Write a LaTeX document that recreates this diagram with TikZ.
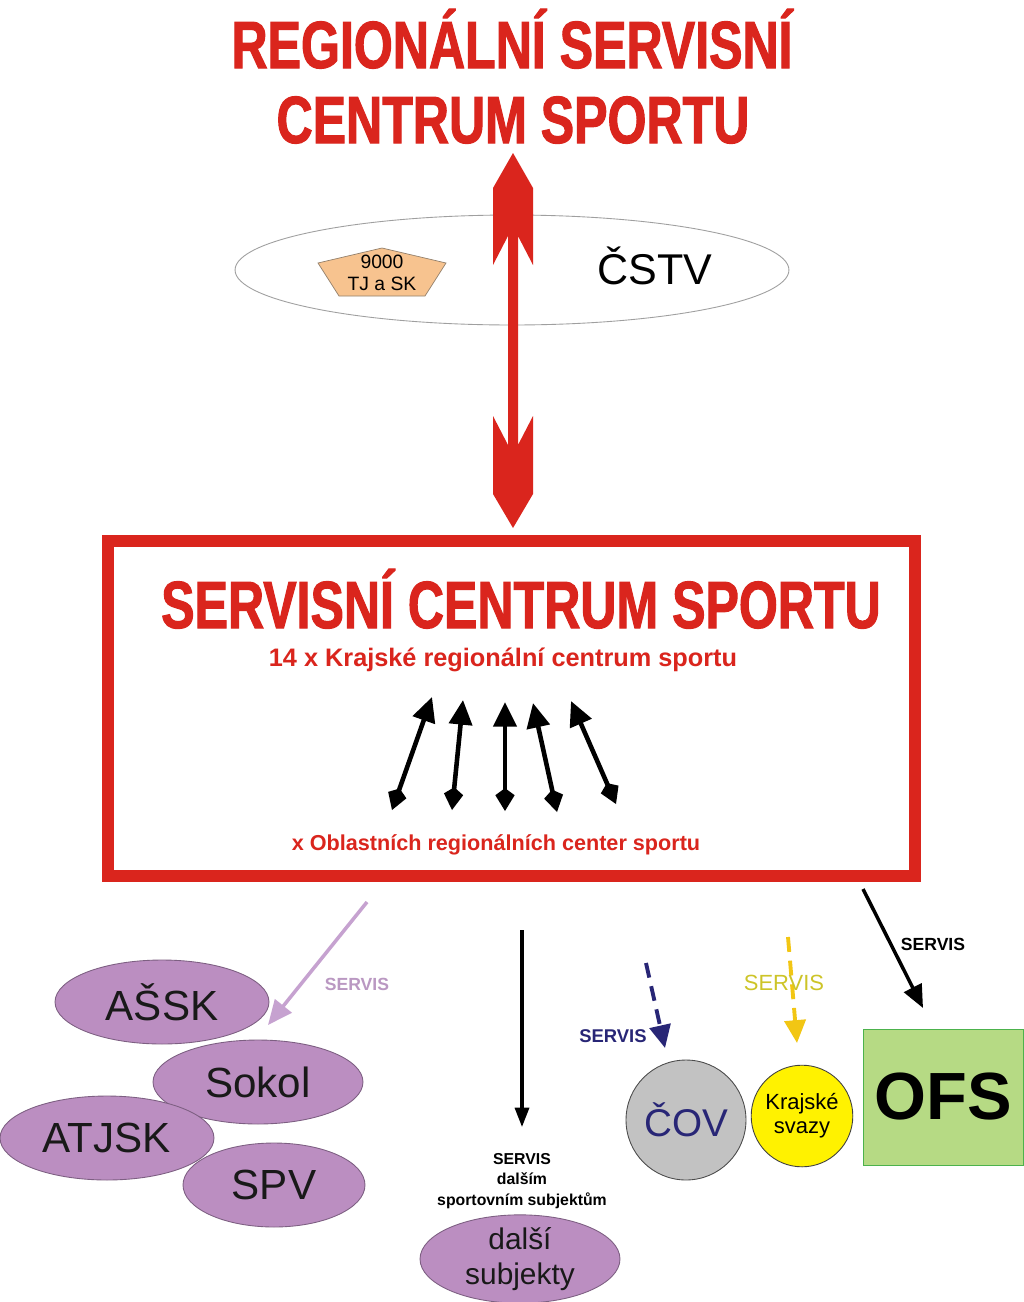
\documentclass[tikz,border=0pt]{standalone}
\usepackage{fontspec}
\setmainfont{Liberation Sans}
\newfontfamily\narrowfont[FakeStretch=0.75,FakeBold=1.5]{Liberation Sans}
\usepackage{xcolor}
\usetikzlibrary{arrows.meta, positioning, shapes.geometric}
\definecolor{rscred}{RGB}{218,37,29}
\definecolor{lilac}{RGB}{198,162,208}
\definecolor{lilactext}{RGB}{186,152,194}
\definecolor{orgfill}{RGB}{187,142,193}
\definecolor{orgline}{RGB}{125,95,130}
\definecolor{navy}{RGB}{40,38,118}
\definecolor{gold}{RGB}{242,198,20}
\definecolor{goldtext}{RGB}{205,196,40}
\definecolor{peach}{RGB}{247,195,143}
\definecolor{ofsgreen}{RGB}{182,218,132}
\definecolor{covgray}{RGB}{194,194,194}

\begin{document}
\begin{tikzpicture}[x=0.02cm, y=-0.02cm,
    bigtitle/.style={anchor=base, text=rscred, font=\narrowfont\bfseries\fontsize{38}{43}\selectfont},
    org/.style={ellipse, draw=orgline, fill=orgfill, line width=0.5pt, minimum height=1.68cm, inner sep=0pt, text=black!90, font=\fontsize{24}{28}\selectfont},
    servis/.style={anchor=base, font=\bfseries\fontsize{10}{12}\selectfont},
    pairarrow/.style={line width=2.6pt, {Kite[width=11pt,length=13pt,inset=4pt]}-{Triangle[width=13pt,length=14pt]}}]
    \useasboundingbox (0,0) rectangle (1024,1302);
    \fill[white] (0,0) rectangle (1024,1302);

    % Title
    \node[bigtitle] (title1) at (512,68) {REGIONÁLNÍ SERVISNÍ};
    \node[bigtitle] (title2) at (513,143) {CENTRUM SPORTU};

    % CSTV ring with clubs
    \node[ellipse, draw=gray!75, line width=0.5pt, minimum width=11.08cm, minimum height=2.2cm] (ring) at (512,270) {};
    \filldraw[fill=peach, draw=gray!70!brown, line width=0.4pt]
        (382,248) -- (446,263) -- (425,296) -- (339,296) -- (318,263) -- cycle;
    \node[align=center, font=\fontsize{11}{12.5}\selectfont] (tjsk) at (382,273) {9000\\TJ a SK};
    \node[anchor=base, font=\fontsize{24.5}{28}\selectfont] (cstv) at (655,284) {ČSTV};

    % Red double arrow
    \fill[rscred] (513,153) -- (533,188) -- (533,265) -- (518,236) -- (518,445) -- (533,416)
        -- (533,494) -- (513,528) -- (493,494) -- (493,416) -- (508,445) -- (508,236)
        -- (493,265) -- (493,188) -- cycle;

    % Service centre box
    \node[draw=rscred, line width=6.8pt, minimum width=16.14cm, minimum height=6.7cm] (rsc) at (511.5,708.5) {};
    \node[bigtitle] (sc) at (521,628) {SERVISNÍ CENTRUM SPORTU};
    \node[anchor=base, text=rscred, font=\bfseries\fontsize{14.4}{17}\selectfont] (krc) at (503,666) {14 x Krajské regionální centrum sportu};
    \node[anchor=base, text=rscred, font=\bfseries\fontsize{12.3}{15}\selectfont] (orc) at (496,850) {x Oblastních regionálních center sportu};

    % Arrows between regional centres
    \foreach \i/\bx/\by/\tx/\ty in {1/392/810/432/697, 2/452/810/463/700, 3/505/811/505/702, 4/557/812/533/703, 5/616/804/571/701} {
        \coordinate (lo\i) at (\bx,\by);
        \coordinate (hi\i) at (\tx,\ty);
        \draw[pairarrow] (lo\i) -- (hi\i);
    }

    % Subjects on the left
    \node[org, minimum width=4.28cm] (assk) at (162,1002) {AŠSK};
    \node[org, minimum width=4.2cm] (sokol) at (258,1082) {Sokol};
    \node[org, minimum width=4.28cm] (atjsk) at (107,1138) {ATJSK};
    \node[org, minimum width=3.64cm] (spv) at (274,1185) {SPV};
    \coordinate (lilfrom) at (367,902);
    \coordinate (lilto) at (268,1025);
    \draw[lilac, line width=2pt, -{Triangle[width=12pt,length=14pt]}] (lilfrom) -- (lilto);
    \node[servis, text=lilactext] (s1) at (357,990) {SERVIS};

    % Other subjects
    \coordinate (midfrom) at (522,930);
    \coordinate (midto) at (522,1127);
    \draw[line width=1.8pt, -{Triangle[width=8pt,length=11pt]}] (midfrom) -- (midto);
    \node[align=center, font=\bfseries\fontsize{9}{11.7}\selectfont] (s2) at (522,1181) {SERVIS\\dalším\\sportovním subjektům};
    \node[org, minimum width=4cm, minimum height=1.64cm, font=\fontsize{17}{19.5}\selectfont, align=center] (dalsi) at (520,1259) {další\\subjekty};

    % COV
    \node[circle, draw=gray!60!black, line width=0.5pt, fill=covgray, minimum size=2.4cm, text=navy, font=\fontsize{22}{26}\selectfont] (cov) at (686,1120) {ČOV};
    \coordinate (navfrom) at (646,963);
    \coordinate (navto) at (665,1048);
    \draw[navy, line width=2.2pt, dash pattern=on 8.5pt off 5pt, -{Triangle[width=12pt,length=13pt]}] (navfrom) -- (navto);
    \node[servis, text=navy, font=\bfseries\fontsize{10.5}{12}\selectfont] (s3) at (613,1042) {SERVIS};

    % Krajske svazy
    \node[circle, draw=gray!50!black, line width=0.5pt, fill=yellow, minimum size=1.92cm, align=center, font=\fontsize{12.5}{13.5}\selectfont] (ks) at (802,1116) {Krajské\\svazy};
    \coordinate (goldfrom) at (788,937);
    \coordinate (goldto) at (797,1043);
    \draw[gold, line width=2.2pt, dash pattern=on 8.5pt off 5pt, -{Triangle[width=12pt,length=13pt]}] (goldfrom) -- (goldto);
    \node[anchor=base, text=goldtext, font=\fontsize{12.5}{14}\selectfont] (s4) at (784,990) {SERVIS};

    % OFS
    \node[draw=gray!60!green, line width=0.5pt, fill=ofsgreen, minimum width=3.2cm, minimum height=2.72cm, font=\bfseries\fontsize{38}{42}\selectfont] (ofs) at (943,1097) {OFS};
    \coordinate (ofsfrom) at (863,889);
    \coordinate (ofsto) at (923,1008);
    \draw[line width=2pt, -{Triangle[width=11pt,length=13pt]}] (ofsfrom) -- (ofsto);
    \node[servis] (s5) at (933,950) {SERVIS};
\end{tikzpicture}
\end{document}
